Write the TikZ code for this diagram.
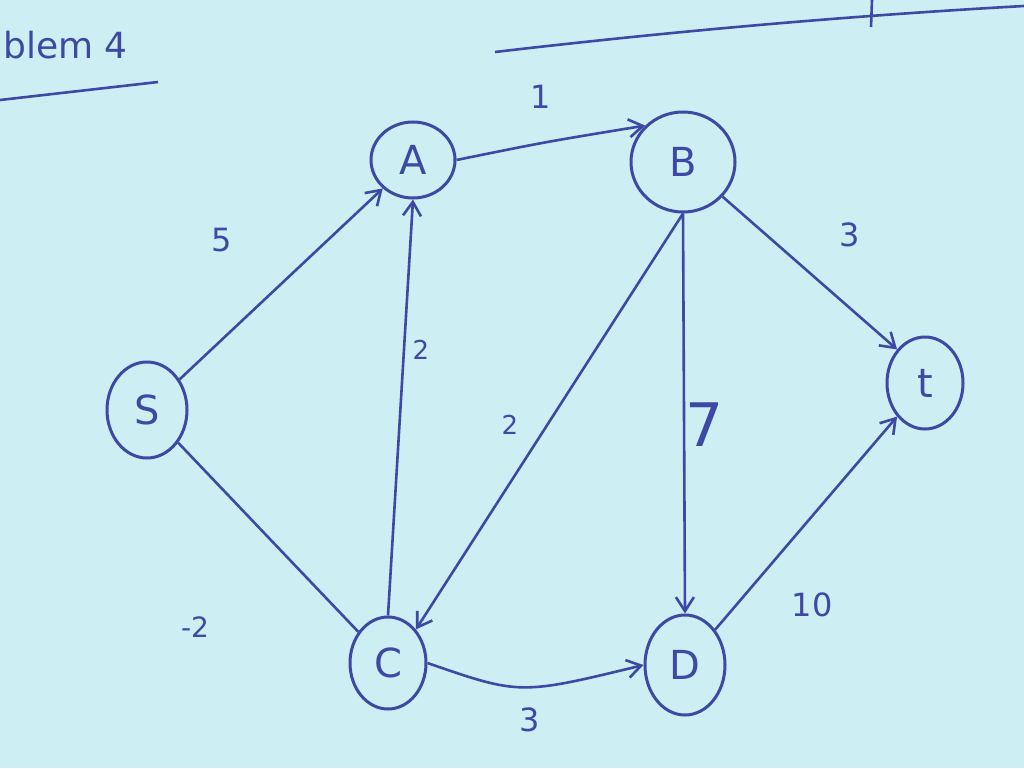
\documentclass[tikz,border=0pt]{standalone}
\usepackage{fontspec}
\setmainfont{DejaVu Sans}
\usetikzlibrary{shapes.geometric,arrows.meta}
\definecolor{paper}{RGB}{205,238,242}
\definecolor{ink}{RGB}{62,72,165}
\tikzset{
  vert/.style={ellipse,draw=ink,line width=3pt,inner sep=0pt,text=ink,font=\fontsize{40}{48}\selectfont},
  edge/.style={draw=ink,line width=2.6pt,-{Straight Barb[length=14pt,width=18pt,line width=2.6pt]}},
  plain/.style={draw=ink,line width=2.6pt},
  lbl/.style={text=ink,font=\fontsize{32}{38}\selectfont,inner sep=0pt},
}
\begin{document}
\begin{tikzpicture}[x=1pt,y=-1pt]
\fill[paper] (0,0) rectangle (1024,768);
\useasboundingbox (0,0) rectangle (1024,768);
% header
\node[lbl,anchor=west,font=\fontsize{36}{42}\selectfont] (title) at (3,45) {blem 4};
\coordinate (u1) at (0,100);
\coordinate (u2) at (158,82);
\draw[plain] (u1) -- (u2);
\coordinate (r1) at (495,52);
\coordinate (r2) at (1024,6);
\draw[plain] (r1) .. controls (700,28) and (880,14) .. (r2);
\coordinate (k1) at (872,0);
\coordinate (k2) at (871,27);
\draw[plain] (k1) -- (k2);
% nodes
\node[vert,minimum width=84pt,minimum height=76pt] (A) at (413,160) {A};
\node[vert,minimum width=104pt,minimum height=100pt] (B) at (683,162) {B};
\node[vert,minimum width=80pt,minimum height=96pt] (S) at (147,410) {S};
\node[vert,minimum width=76pt,minimum height=92pt] (C) at (388,663) {C};
\node[vert,minimum width=80pt,minimum height=100pt] (D) at (685,665) {D};
\node[vert,minimum width=76pt,minimum height=92pt] (t) at (925,383) {t};
% edges
\draw[edge] (A.east) .. controls (545,142) .. (B.north west);
\draw[edge] (S) -- (A);
\draw[edge] (B) -- (t.north west);
\draw[edge] (C.north) -- (A.south);
\draw[edge] (B.south) -- (C.north east);
\draw[edge] (B.south) -- (D.north);
\draw[edge] (C.east) .. controls (520,695) .. (D.west);
\draw[edge] (D) -- (t.south west);
\draw[plain] (S) -- (C);
% labels
\node[lbl] (l5) at (222,240) {5};
\node[lbl] (l1) at (541,97) {1};
\node[lbl] (l3a) at (850,235) {3};
\node[lbl,font=\fontsize{26}{30}\selectfont] (l2a) at (421,350) {2};
\node[lbl,font=\fontsize{26}{30}\selectfont] (l2b) at (510,425) {2};
\node[lbl,font=\fontsize{60}{70}\selectfont] (l7) at (705,425) {7};
\node[lbl] (l10) at (812,605) {10};
\node[lbl] (l3b) at (530,720) {3};
\node[lbl,font=\fontsize{28}{32}\selectfont] (lm2) at (195,627) {-2};
\end{tikzpicture}
\end{document}
